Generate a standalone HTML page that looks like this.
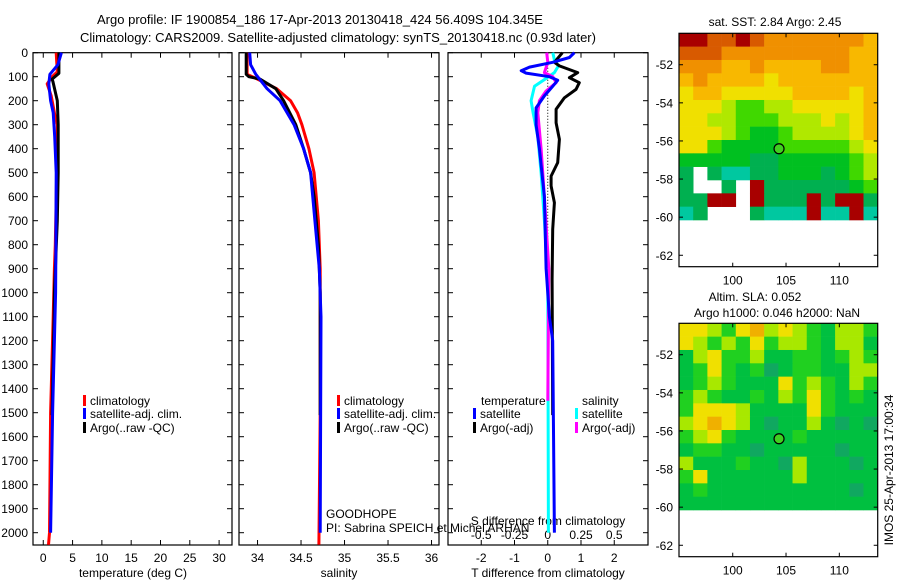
<!DOCTYPE html>
<html><head><meta charset="utf-8">
<style>
html,body{margin:0;padding:0;background:#fff;}
svg{display:block;font-family:"Liberation Sans",sans-serif;}
</style></head>
<body>
<svg id="chart" width="900" height="580" viewBox="0 0 900 580" xmlns="http://www.w3.org/2000/svg">
<text x="320" y="24" font-size="13" text-anchor="middle">Argo profile: IF 1900854_186 17-Apr-2013 20130418_424 56.409S 104.345E</text>
<text x="338" y="42" font-size="13" text-anchor="middle">Climatology: CARS2009. Satellite-adjusted climatology: synTS_20130418.nc (0.93d later)</text>
<g id="g"></g>
</svg>
<script>
// ---- depth axis ----
const depthTicks=[0,100,200,300,400,500,600,700,800,900,1000,1100,1200,1300,1400,1500,1600,1700,1800,1900,2000];
// ---- temperature panel data ----
const tClimDepth=[0,80,100,130,180,250,300,500,800,900,1100,1500,2000,2050];
const tClim=[2.2,2.4,1.5,0.68,1.35,1.9,2.4,2.3,2.05,1.9,1.7,1.25,1.07,0.9];
const tSatDepth=[0,50,90,130,200,250,350,500,800,1000,1100,1500,2000];
const tSat=[3.1,2.5,1.13,0.95,1.25,1.7,1.95,2.2,2.15,2.1,2.0,1.6,1.25];
const tArgoDepth=[0,86,110,120,200,300,500,700,1000,1100,1400,1510];
const tArgo=[2.67,2.67,1.5,1.64,2.4,2.55,2.55,2.4,1.9,1.85,1.6,1.5];
const tTicks=[0,5,10,15,20,25,30];
// ---- salinity panel data ----
const sClimDepth=[0,90,110,150,200,250,300,400,500,700,900,1500,2050];
const sClim=[33.88,33.88,34.0,34.22,34.38,34.46,34.51,34.59,34.65,34.70,34.72,34.72,34.705];
const sSatDepth=[0,50,90,150,200,300,400,500,700,900,1100,2000];
const sSat=[33.91,33.92,33.98,34.11,34.26,34.42,34.53,34.61,34.66,34.71,34.73,34.72];
const sArgoDepth=[0,90,100,110,150,200,300,400,500,600,800,1000,1510];
const sArgo=[33.87,33.87,33.90,34.03,34.21,34.30,34.44,34.53,34.61,34.65,34.70,34.72,34.72];
const sTicks=[34,34.5,35,35.5,36];
// ---- difference panel data ----
const dTSatDepth=[0,20,40,60,75,85,100,115,140,180,230,300,400,600,900,1100,1200,2000];
const dTSat=[0.8,0.65,0.15,-0.55,-0.8,-0.65,0.05,0.3,0.15,-0.1,-0.35,-0.35,-0.25,-0.1,-0.05,0.05,0.15,0.2];
const dTArgoDepth=[0,40,55,83,104,125,153,188,236,292,361,458,514,555,625,736,944,1510];
const dTArgo=[0.44,0.2,0.35,0.9,0.65,0.95,0.85,0.5,0.25,0.25,0.35,0.3,0.1,0.1,0.2,0.15,0.13,0.15];
const dSSatDepth=[0,30,55,83,110,140,200,250,350,500,700,944,2000];
const dSSat=[0.038,0.05,0.08,0.05,-0.02,-0.1,-0.125,-0.11,-0.075,-0.05,-0.025,0,0.005];
const dSArgoDepth=[0,40,83,100,125,160,200,250,400,600,900,1450];
const dSArgo=[-0.008,0,-0.025,0.038,0.063,-0.013,-0.063,-0.075,-0.05,-0.025,0.008,0];
const dTTicks=[-2,-1,0,1,2];
const dSTicks=[-0.5,-0.25,0,0.25,0.5];
const dSTickLabels=["-0.5","-0.25","0","0.25","0.5"];
// ---- map data ----
const latTicks=[-52,-54,-56,-58,-60,-62];
const lonTicks=[100,105,110];
const argoLon=104.345, argoLat=-56.409;
const sstGrid=[
[9,9,8,8,9,8,7,7,7,7,7,7,7,6],
[8,8,8,7,7,7,7,7,7,7,7,7,6,6],
[7,7,7,6,6,7,6,6,6,6,7,7,6,6],
[6,7,6,6,6,6,5,6,6,6,6,6,6,6],
[5,6,6,5,5,5,5,5,6,6,6,6,5,6],
[5,5,5,4,3,3,4,4,5,5,5,5,5,6],
[5,5,4,4,3,3,3,4,4,4,5,4,5,6],
[5,5,5,4,3,2,2,3,4,4,4,4,5,6],
[5,5,3,2,2,2,2,3,3,3,3,3,4,5],
[2,2,2,2,2,1,1,2,2,2,2,2,3,4],
[1,-1,1,0,0,1,1,2,2,2,1,2,3,4],
[1,-1,-1,1,-1,9,1,1,1,1,1,1,2,3],
[1,1,9,9,-1,9,1,1,1,9,1,9,9,1],
[0,1,-1,-1,-1,1,0,0,0,9,0,0,9,0]];
const slaGrid=[
[4,4,3,2,4,5,3,4,3,2,1,3,3,2],
[4,3,2,3,2,4,2,3,3,2,1,3,3,1],
[1,3,4,2,2,3,1,1,2,2,1,2,3,2],
[1,2,4,2,1,2,0,1,2,2,1,1,3,3],
[1,2,3,2,1,1,1,4,2,3,2,1,3,2],
[2,3,2,1,1,2,1,3,2,4,2,1,2,1],
[2,4,4,4,3,1,1,1,1,4,2,1,1,1],
[3,4,5,4,3,1,0,1,1,3,1,0,1,0],
[2,3,4,2,1,1,1,1,2,1,1,1,1,1],
[1,2,2,1,1,0,1,1,1,1,1,0,1,1],
[3,1,1,1,2,1,1,0,3,1,1,1,0,1],
[2,4,1,1,1,1,1,1,3,1,1,1,1,1],
[1,2,1,1,1,1,1,1,1,1,1,1,0,1],
[1,1,1,1,1,1,1,1,1,1,1,1,1,1]];

const NS="http://www.w3.org/2000/svg";
const G=document.getElementById('g');
const FS=12;
function el(tag,attrs,parent,text){const e=document.createElementNS(NS,tag);for(const k in attrs)e.setAttribute(k,attrs[k]);if(text!==undefined)e.textContent=text;(parent||G).appendChild(e);return e;}

const TOP=52.7, BOT=545, PXD=0.24;
const yD=d=>TOP+d*PXD;
const panels=[
 {x0:33,x1:232,v0:-1.75,v1:32.2,name:'temperature-panel'},
 {x0:239,x1:439,v0:33.787,v1:36.086,name:'salinity-panel'},
 {x0:448,x1:648,v0:-3.0,v1:3.015,name:'difference-panel'}];
function xf(p){return v=>p.x0+(v-p.v0)/(p.v1-p.v0)*(p.x1-p.x0);}
const xT=xf(panels[0]), xS=xf(panels[1]), xDT=xf(panels[2]);
const xDS=v=>xDT(0)+v*133;

panels.forEach((p,i)=>{
  const r=el('rect',{x:p.x0,y:TOP,width:p.x1-p.x0,height:BOT-TOP,fill:'none',stroke:'#000','stroke-width':1.2});
  
  
  depthTicks.forEach(d=>{
    el('line',{x1:p.x0,x2:p.x0+5,y1:yD(d),y2:yD(d),stroke:'#000'});
    el('line',{x1:p.x1,x2:p.x1-5,y1:yD(d),y2:yD(d),stroke:'#000'});
  });
});
depthTicks.forEach(d=>{
  const t=el('text',{x:28,y:yD(d)+4.5,'font-size':FS,'text-anchor':'end'},G,String(d));
  
  
});
function xticks(vals,labels,fx,y,name){
  vals.forEach((v,i)=>{
    el('line',{x1:fx(v),x2:fx(v),y1:BOT,y2:BOT-5,stroke:'#000'});
    el('line',{x1:fx(v),x2:fx(v),y1:TOP,y2:TOP+5,stroke:'#000'});
    const t=el('text',{x:fx(v),y:y,'font-size':FS,'text-anchor':'middle'},G,labels[i]);
    
    
  });
}
xticks(tTicks,tTicks.map(String),xT,562,'temperature-tick-label');
xticks(sTicks,sTicks.map(String),xS,562,'salinity-tick-label');
xticks(dTTicks,dTTicks.map(String),xDT,562,'t-diff-tick-label');
dSTicks.forEach((v,i)=>{
  const t=el('text',{x:xDS(v),y:539,'font-size':FS,'text-anchor':'middle'},G,dSTickLabels[i]);
  
  
});
[['temperature (deg C)',133,'temperature-axis-title'],['salinity',339,'salinity-axis-title'],['T difference from climatology',548,'t-diff-axis-title']].forEach(a=>{
  const t=el('text',{x:a[1],y:577,'font-size':FS,'text-anchor':'middle'},G,a[0]);
  
  
});
{const t=el('text',{x:548,y:525,'font-size':FS,'text-anchor':'middle'},G,'S difference from climatology');

}

{const l=el('line',{x1:xDT(0),x2:xDT(0),y1:yD(0),y2:yD(2000),stroke:'#000','stroke-dasharray':'1,2'});

}

function prof(vals,depths,fx,color,name){
  const pts=vals.map((v,i)=>fx(v).toFixed(1)+','+yD(depths[i]).toFixed(1)).join(' ');
  const p=el('polyline',{points:pts,fill:'none',stroke:color,'stroke-width':3,'stroke-linejoin':'round'});
  
  
}
prof(tClim,tClimDepth,xT,'#ff0000','temp-climatology-line');
prof(tArgo,tArgoDepth,xT,'#000','temp-argo-line');
prof(tSat,tSatDepth,xT,'#0000ff','temp-satellite-line');
prof(sClim,sClimDepth,xS,'#ff0000','sal-climatology-line');
prof(sArgo,sArgoDepth,xS,'#000','sal-argo-line');
prof(sSat,sSatDepth,xS,'#0000ff','sal-satellite-line');
prof(dSSat,dSSatDepth,xDS,'#00ffff','s-diff-satellite-line');
prof(dSArgo,dSArgoDepth,xDS,'#ff00ff','s-diff-argo-line');
prof(dTArgo,dTArgoDepth,xDT,'#000','t-diff-argo-line');
prof(dTSat,dTSatDepth,xDT,'#0000ff','t-diff-satellite-line');

function legend(x,y,color,label){
  const g=el('g',{});
  
  
  el('rect',{x:x,y:y-10,width:3,height:11,fill:color},g);
  el('text',{x:x+7,y:y,'font-size':FS},g,label);
}
legend(83,405,'#ff0000','climatology');
legend(83,418,'#0000ff','satellite-adj. clim.');
legend(83,432,'#000','Argo(..raw -QC)');
legend(337,405,'#ff0000','climatology');
legend(337,418,'#0000ff','satellite-adj. clim.');
legend(337,432,'#000','Argo(..raw -QC)');
{const t=el('text',{x:481,y:405,'font-size':FS},G,'temperature');}
{const t=el('text',{x:582,y:405,'font-size':FS},G,'salinity');}
legend(473,418,'#0000ff','satellite');
legend(473,432,'#000','Argo(-adj)');
legend(575,418,'#00ffff','satellite');
legend(575,432,'#ff00ff','Argo(-adj)');
{const t=el('text',{x:326,y:518,'font-size':FS},G,'GOODHOPE');}
{const t=el('text',{x:326,y:532,'font-size':FS},G,'PI: Sabrina SPEICH et Michel ARHAN');}

// ---- maps ----
const MX0=679, MX1=877.7, LON0=94.96, LON1=113.6;
const lonX=l=>MX0+(l-LON0)/(LON1-LON0)*(MX1-MX0);
const sstColors=['#00c8a0','#00b050','#00c020','#40d800','#b0e800','#f0e000','#f8b800','#f09000','#d85a00','#a80000'];
const slaColors=['#10a860','#00c040','#20d020','#a8e800','#f0e000','#f0b000'];
function map(top,bot,grid,colors,name){
  const latY=l=>top+(-50.35-l)/(-50.35+62.6)*(bot-top);
  const g=el('g',{});
  
  
  const nr=grid.length,nc=grid[0].length,dLat=(60.15-50.35)/nr,dLon=(LON1-LON0)/nc;
  grid.forEach((row,r)=>row.forEach((v,c)=>{
    if(v<0)return;
    const x=lonX(LON0+c*dLon),y=latY(-50.35-r*dLat);
    const cell=el('rect',{x:x,y:y,width:lonX(LON0+(c+1)*dLon)-x+0.3,height:latY(-50.35-(r+1)*dLat)-y+0.3,fill:colors[v]},g);
    
    
  }));
  el('rect',{x:MX0,y:top,width:MX1-MX0,height:bot-top,fill:'none',stroke:'#000','stroke-width':1.2},g);
  latTicks.forEach(l=>{
    el('line',{x1:MX0,x2:MX0+4,y1:latY(l),y2:latY(l),stroke:'#000'},g);
    el('line',{x1:MX1,x2:MX1-4,y1:latY(l),y2:latY(l),stroke:'#000'},g);
    el('text',{x:673,y:latY(l)+4.5,'font-size':FS,'text-anchor':'end'},g,String(l));
  });
  lonTicks.forEach(l=>{
    el('line',{x1:lonX(l),x2:lonX(l),y1:bot,y2:bot-4,stroke:'#000'},g);
    el('line',{x1:lonX(l),x2:lonX(l),y1:top,y2:top+4,stroke:'#000'},g);
    el('text',{x:lonX(l),y:bot+18,'font-size':FS,'text-anchor':'middle'},g,String(l));
  });
  const m=el('circle',{cx:lonX(argoLon),cy:latY(argoLat),r:5,fill:'#40d020',stroke:'#000','stroke-width':1.2},g);
  
  
}
map(33.3,266.7,sstGrid,sstColors,'sst-map');
map(323.3,556.7,slaGrid,slaColors,'sla-map');
{const t=el('text',{x:775,y:26,'font-size':FS,'text-anchor':'middle'},G,'sat. SST: 2.84 Argo: 2.45');}
{const t=el('text',{x:755,y:301,'font-size':FS,'text-anchor':'middle'},G,'Altim. SLA: 0.052');}
{const t=el('text',{x:777,y:317,'font-size':FS,'text-anchor':'middle'},G,'Argo h1000: 0.046 h2000: NaN');}
{const t=el('text',{x:0,y:0,'font-size':FS,'text-anchor':'middle',transform:'translate(893,470) rotate(-90)'},G,'IMOS 25-Apr-2013 17:00:34');}
</script>
</body></html>
